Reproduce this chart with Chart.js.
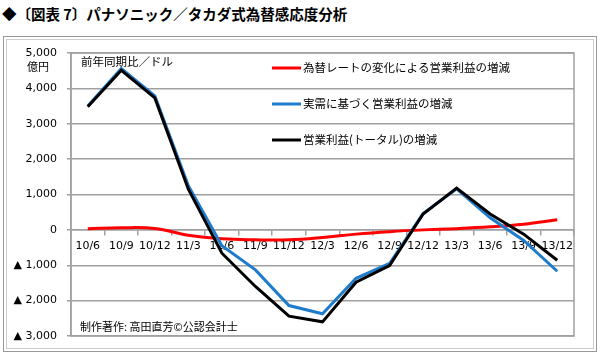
<!DOCTYPE html>
<html>
<head>
<meta charset="utf-8">
<script src="https://cdn.jsdelivr.net/npm/chart.js@4.4.1/dist/chart.umd.min.js"></script>
<style>
  html, body { margin: 0; padding: 0; background: #fff; }
  #wrap { position: relative; width: 600px; height: 354px; overflow: hidden; }
  #title { position: absolute; left: 2px; top: 3px; font: bold 14.5px "Noto Sans CJK JP", sans-serif; color: #000; white-space: nowrap; }
  #frame { position: absolute; left: 3px; top: 36px; width: 592px; height: 314px; border: 1px solid #999; box-shadow: inset 0 0 0 2px #fff, inset 0 0 0 3px #ccc; }
  #c { position: absolute; left: 0; top: 0; }
</style>
</head>
<body>
<div id="wrap">
  <div id="title">◆〔図表 7〕パナソニック／タカダ式為替感応度分析</div>
  <div id="frame"></div>
  <canvas id="c" width="600" height="354"></canvas>
</div>
<script>
"use strict";

// quarters (yy/m)
const periods = ["10/6", "10/9", "10/12", "11/3", "11/6", "11/9", "11/12", "12/3",
  "12/6", "12/9", "12/12", "13/3", "13/6", "13/9", "13/12"];

// 億円, year-on-year
const fxEffect = [30, 60, 40, -150, -250, -280, -280, -215, -120, -50, 0, 35, 85, 160, 285];
const realEffect = [3500, 4560, 3790, 1250, -450, -1130, -2140, -2370, -1370, -950, 460, 1160, 340, -300, -1170];
const totalChange = [3480, 4510, 3730, 1150, -660, -1600, -2440, -2600, -1480, -1010, 450, 1180, 450, -120, -860];

const yTicks = [5000, 4000, 3000, 2000, 1000, 0, -1000, -2000, -3000];

const legendLabels = ["為替レートの変化による営業利益の増減", "実需に基づく営業利益の増減", "営業利益(トータル)の増減"];
const colors = ["#ff0000", "#1f7ccc", "#000000"];

const fmt = (v) => {
  if (v === 0) return "0";
  const s = Math.abs(v).toLocaleString("en-US");
  return v < 0 ? "▲ " + s : s;
};

const jp = '"Noto Sans CJK JP", sans-serif';

const extras = {
  id: "extras",
  afterDraw(chart) {
    const { ctx, chartArea: a } = chart;
    ctx.save();
    // plot frame
    ctx.strokeStyle = "#a0a0a0";
    ctx.lineWidth = 1.5;
    ctx.strokeRect(a.left, a.top, a.right - a.left, a.bottom - a.top);
    // legend
    ctx.font = "11.5px " + jp;
    ctx.textBaseline = "middle";
    const ly = [68, 104, 140];
    legendLabels.forEach((t, i) => {
      ctx.strokeStyle = colors[i];
      ctx.lineWidth = 3;
      ctx.beginPath();
      ctx.moveTo(272, ly[i]);
      ctx.lineTo(301, ly[i]);
      ctx.stroke();
      ctx.fillStyle = "#000";
      ctx.textAlign = "left";
      ctx.fillText(t, 303, ly[i]);
    });
    // notes
    ctx.fillText("前年同期比／ドル", 81, 62);
    ctx.font = "11px " + jp;
    ctx.fillText("制作著作: 高田直芳©公認会計士", 80, 327);
    ctx.fillText("億円", 27, 67);
    ctx.restore();
  }
};

new Chart(document.getElementById("c"), {
  type: "line",
  data: {
    labels: periods,
    datasets: [
      { label: legendLabels[0], data: fxEffect, borderColor: colors[0], borderWidth: 3, tension: 0.4, pointRadius: 0, order: 2 },
      { label: legendLabels[1], data: realEffect, borderColor: colors[1], borderWidth: 3, tension: 0, pointRadius: 0, order: 1 },
      { label: legendLabels[2], data: totalChange, borderColor: colors[2], borderWidth: 3, tension: 0, pointRadius: 0, order: 0 },
    ],
  },
  options: {
    responsive: false,
    animation: false,
    layout: { padding: { left: 0, top: 53, right: 26, bottom: 18 } },
    plugins: { legend: { display: false }, tooltip: { enabled: false } },
    scales: {
      x: {
        position: { y: 0 },
        offset: true,
        grid: { offset: true, drawOnChartArea: false, tickLength: 5, color: "#a0a0a0", lineWidth: 1.5 },
        border: { color: "#a0a0a0", width: 1.5 },
        ticks: { color: "#000", font: { family: "DejaVu Sans", size: 11 }, padding: 5, maxRotation: 0, autoSkip: false },
      },
      y: {
        min: -3000, max: 5000,
        afterBuildTicks: (s) => { s.ticks = yTicks.map((v) => ({ value: v })); },
        afterFit: (s) => { s.width = 71; },
        grid: { color: "#a0a0a0", lineWidth: 1.5, tickLength: 4 },
        border: { color: "#a0a0a0", width: 1.5 },
        ticks: { color: "#000", font: { family: "DejaVu Sans", size: 11 }, padding: 10, callback: (v) => fmt(v) },
      },
    },
  },
  plugins: [extras],
});
</script>
</body>
</html>
